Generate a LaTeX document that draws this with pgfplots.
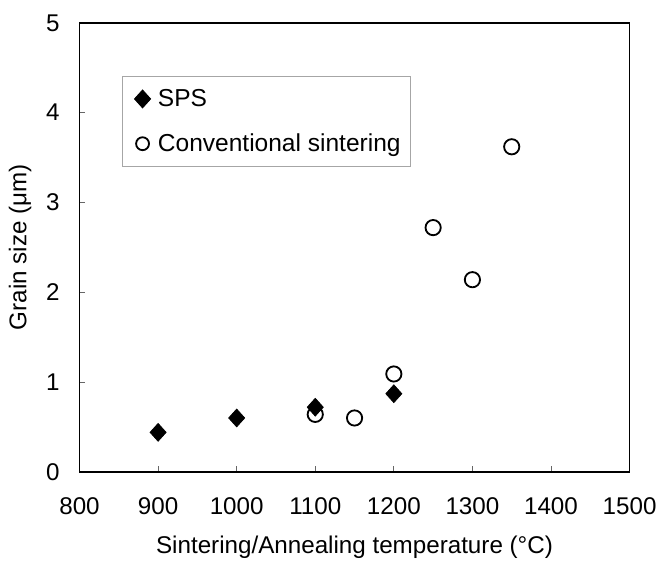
\documentclass[border=0pt]{standalone}
\usepackage{fontspec}
\setmainfont{Liberation Sans}
\usepackage{pgfplots}
\pgfplotsset{compat=1.18}
\begin{document}
\begin{tikzpicture}
\begin{axis}[
  name=ax,
  scale only axis,
  width=332pt, height=271pt,
  xmin=800, xmax=1500,
  ymin=0, ymax=5,
  xtick={800,900,...,1500},
  ytick={0,1,...,5},
  tick align=inside,
  xtick pos=bottom, ytick pos=left,
  major tick length=3.4pt,
  axis line style={line width=1pt},
  tick style={line width=0.6pt, black!60},
  every tick label/.style={font=\fontsize{14.6}{17}\selectfont},
  /pgf/number format/assume math mode=true,
  /pgf/number format/set thousands separator={},
  xticklabel style={yshift=-12pt},
  yticklabel style={xshift=-8.5pt},
  xlabel={Sintering/Annealing temperature (°C)},
  ylabel={Grain size (μm)},
  label style={font=\fontsize{14.6}{17}\selectfont},
  xlabel style={yshift=-6pt},
  ylabel style={yshift=2pt},
  legend style={at={(0.078,0.881)}, anchor=north west,
    draw=gray!70, line width=0.5pt,
    font=\fontsize{14.8}{17}\selectfont,
    row sep=11pt, inner xsep=4pt, inner ysep=5.5pt},
  legend cell align=left,
  legend image code/.code={\path[draw=none, fill=none] (0.8pt,0pt) -- (16pt,0pt);
    \draw[#1] plot coordinates {(8.7pt,0pt)};},
]
\addplot[only marks, mark=diamond*, mark size=5.4pt, mark options={black, fill=black, xscale=1.2}]
coordinates {(900,0.44)(1000,0.60)(1100,0.72)(1200,0.87)};
\addplot[only marks, mark=o, mark size=4.6pt, mark options={black, line width=1.1pt, fill=white},
  legend image post style={mark size=3.9pt, mark options={black, line width=1.1pt, fill=white}}]
coordinates {(1100,0.64)(1150,0.60)(1200,1.09)(1250,2.72)(1300,2.14)(1350,3.62)};
\legend{SPS, Conventional sintering}
\end{axis}
\path (ax.south west) ++(-48pt,-56.4pt) coordinate (bl);
\path (ax.north east) ++(17.4pt,13.8pt) coordinate (tr);
\useasboundingbox (bl) rectangle (tr);
\end{tikzpicture}
\end{document}
